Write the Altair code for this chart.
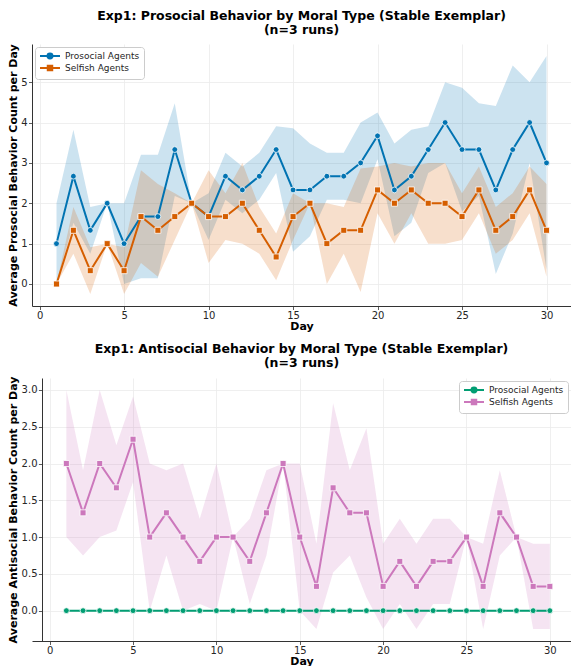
import altair as alt
import pandas as pd

days = list(range(1, 31))
agents = ["Prosocial Agents", "Selfish Agents"]

# Experiment 1, prosocial behaviour: per-day mean over 3 runs and its standard deviation
pro_prosocial_mean = [1.0, 2.67, 1.33, 2.0, 1.0, 1.67, 1.67, 3.33, 2.0, 1.67,
                      2.67, 2.33, 2.67, 3.33, 2.33, 2.33, 2.67, 2.67, 3.0, 3.67,
                      2.33, 2.67, 3.33, 4.0, 3.33, 3.33, 2.33, 3.33, 4.0, 3.0]
pro_prosocial_sd = [1.0, 1.15, 0.58, 0.0, 1.0, 1.53, 1.53, 1.15, 0.0, 0.58,
                    0.58, 0.58, 0.58, 0.58, 1.53, 1.15, 0.58, 0.58, 1.0, 0.58,
                    1.15, 1.15, 0.58, 1.0, 1.53, 1.15, 2.08, 2.08, 1.0, 2.65]
pro_selfish_mean = [0.0, 1.33, 0.33, 1.0, 0.33, 1.67, 1.33, 1.67, 2.0, 1.67,
                    1.67, 2.0, 1.33, 0.67, 1.67, 2.0, 1.0, 1.33, 1.33, 2.33,
                    2.0, 2.33, 2.0, 2.0, 1.67, 2.33, 1.33, 1.67, 2.33, 1.33]
pro_selfish_sd = [0.0, 0.58, 0.58, 0.0, 0.58, 1.15, 1.15, 0.58, 0.0, 1.15,
                  0.58, 1.0, 0.58, 0.58, 0.58, 0.0, 1.0, 0.58, 1.53, 0.58,
                  1.0, 0.58, 1.0, 1.0, 0.58, 0.58, 0.58, 0.58, 0.58, 1.15]

# Experiment 1, antisocial behaviour
anti_prosocial_mean = [0.0, 0.0, 0.0, 0.0, 0.0, 0.0, 0.0, 0.0, 0.0, 0.0,
                       0.0, 0.0, 0.0, 0.0, 0.0, 0.0, 0.0, 0.0, 0.0, 0.0,
                       0.0, 0.0, 0.0, 0.0, 0.0, 0.0, 0.0, 0.0, 0.0, 0.0]
anti_prosocial_sd = [0.0, 0.0, 0.0, 0.0, 0.0, 0.0, 0.0, 0.0, 0.0, 0.0,
                     0.0, 0.0, 0.0, 0.0, 0.0, 0.0, 0.0, 0.0, 0.0, 0.0,
                     0.0, 0.0, 0.0, 0.0, 0.0, 0.0, 0.0, 0.0, 0.0, 0.0]
anti_selfish_mean = [2.0, 1.33, 2.0, 1.67, 2.33, 1.0, 1.33, 1.0, 0.67, 1.0,
                     1.0, 0.67, 1.33, 2.0, 1.0, 0.33, 1.67, 1.33, 1.33, 0.33,
                     0.67, 0.33, 0.67, 0.67, 1.0, 0.33, 1.33, 1.0, 0.33, 0.33]
anti_selfish_sd = [1.0, 0.58, 1.0, 0.58, 0.58, 1.0, 0.58, 1.0, 0.58, 1.0,
                   0.0, 0.58, 0.58, 0.0, 1.0, 0.58, 1.15, 0.58, 1.15, 0.58,
                   0.58, 0.58, 0.58, 0.58, 0.0, 0.58, 0.58, 0.0, 0.58, 0.58]

day_ticks = [0, 5, 10, 15, 20, 25, 30]
pro_y_ticks = [0, 1, 2, 3, 4, 5]
anti_y_ticks = [0.0, 0.5, 1.0, 1.5, 2.0, 2.5, 3.0]

# series keys are "<panel>|<agent>"; legends print the part after the bar
pro_keys = ["prosocial|" + a for a in agents]
anti_keys = ["antisocial|" + a for a in agents]
series_keys = pro_keys + anti_keys
series_colors = ["#0173b2", "#d55e00", "#029e73", "#cc78bc"]

FONT = "DejaVu Sans"
TEXT = "#262626"

# Legend glyphs: a short line with the series marker in the middle.  The marker
# is built from nested outlines so that a 2px stroke paints it solid.
LINE_CIRCLE = ("M-2.5,0H2.5"
               "M0.62,0A0.62,0.62,0,1,1,-0.62,0A0.62,0.62,0,1,1,0.62,0"
               "M0.25,0A0.25,0.25,0,1,1,-0.25,0A0.25,0.25,0,1,1,0.25,0")
LINE_SQUARE = ("M-2.5,0H2.5"
               "M-0.56,-0.56H0.56V0.56H-0.56Z"
               "M-0.22,-0.22H0.22V0.22H-0.22Z")
series_glyphs = [LINE_CIRCLE, LINE_SQUARE, LINE_CIRCLE, LINE_SQUARE]


def build_frame(keys, m1, s1, m2, s2):
    rows = []
    for key, means, sds in ((keys[0], m1, s1), (keys[1], m2, s2)):
        for d, m, s in zip(days, means, sds):
            rows.append({"Day": d, "series": key, "mean": m, "lo": m - s, "hi": m + s})
    return pd.DataFrame(rows)


def panel(df, keys, title, ytitle, ydomain, yticks, yfmt, xdomain, width, height,
          orient, y_offset, title_x):
    x = alt.X("Day:Q", title="Day",
              scale=alt.Scale(domain=xdomain, nice=False, zero=False),
              axis=alt.Axis(values=day_ticks, format="d", labelPadding=0.5, titlePadding=0))
    yscale = alt.Scale(domain=ydomain, nice=False, zero=False)
    yaxis = alt.Axis(values=yticks, format=yfmt, offset=y_offset, minExtent=0,
                     labelPadding=1.5,
                     titleX=title_x, titleY=height / 2, titleBaseline="middle",
                     titleAlign="center", titleAngle=270)
    color = alt.Color("series:N", scale=alt.Scale(domain=series_keys, range=series_colors),
                      legend=None)

    band = alt.Chart(df).mark_area(opacity=0.2).encode(
        x=x,
        y=alt.Y("lo:Q", title=ytitle, scale=yscale, axis=yaxis, stack=None),
        y2="hi:Q",
        color=color,
    )
    line = alt.Chart(df).mark_line(strokeWidth=2).encode(
        x=x, y=alt.Y("mean:Q", scale=yscale), color=color
    )
    pts_circle = alt.Chart(df).transform_filter(
        alt.datum.series == keys[0]
    ).mark_point(filled=True, shape="circle", size=34, stroke="white",
                 strokeWidth=0.8, opacity=1).encode(
        x=x, y=alt.Y("mean:Q", scale=yscale), color=color
    )
    pts_square = alt.Chart(df).transform_filter(
        alt.datum.series == keys[1]
    ).mark_point(filled=True, shape="square", size=36, stroke="white",
                 strokeWidth=0.8, opacity=1).encode(
        x=x, y=alt.Y("mean:Q", scale=yscale), color=color
    )

    leg = alt.Legend(title=None, orient=orient, offset=3, padding=4, values=keys,
                     labelExpr="split(datum.label, '|')[1]",
                     labelFont=FONT, labelFontSize=9, labelColor=TEXT,
                     symbolSize=64, symbolStrokeWidth=2, labelOffset=10,
                     symbolOffset=6, rowPadding=-2,
                     fillColor="white", strokeColor="#cccccc", cornerRadius=3)
    # invisible points that only carry the legend
    key = alt.Chart(df).mark_point(filled=True, opacity=0).encode(
        x=x,
        y=alt.Y("mean:Q", scale=yscale),
        fill=alt.Fill("series:N", scale=alt.Scale(domain=series_keys, range=series_colors),
                      legend=leg),
        stroke=alt.Stroke("series:N", scale=alt.Scale(domain=series_keys, range=series_colors),
                          legend=leg),
        shape=alt.Shape("series:N", scale=alt.Scale(domain=series_keys, range=series_glyphs),
                        legend=leg),
    )

    return alt.layer(band, line, pts_circle, pts_square, key).properties(
        width=width, height=height,
        title=alt.TitleParams(title, font=FONT, fontSize=12.5, fontWeight="bold",
                              color="black", anchor="middle", frame="group",
                              offset=7, lineHeight=14),
    )


pro_df = build_frame(pro_keys, pro_prosocial_mean, pro_prosocial_sd,
                     pro_selfish_mean, pro_selfish_sd)
anti_df = build_frame(anti_keys, anti_prosocial_mean, anti_prosocial_sd,
                      anti_selfish_mean, anti_selfish_sd)

# Both panels share a left edge; the lower panel's y axis sits 10px inside it,
# leaving room for its wider tick labels.
top = panel(pro_df, pro_keys,
            ["Exp1: Prosocial Behavior by Moral Type (Stable Exemplar)", "(n=3 runs)"],
            "Average Prosocial Behavior Count per Day",
            [-0.545, 5.945], pro_y_ticks, "d", [-0.45, 31.45], 539, 262,
            "top-left", 0, -19)
bottom = panel(anti_df, anti_keys,
               ["Exp1: Antisocial Behavior by Moral Type (Stable Exemplar)", "(n=3 runs)"],
               "Average Antisocial Behavior Count per Day",
               [-0.4125, 3.1625], anti_y_ticks, ".1f", [-1.062, 31.27], 539, 263,
               "top-right", -10, -29)

chart = alt.concat(top, bottom, columns=1, spacing=11).properties(
    padding={"left": 6, "top": 10, "right": 0, "bottom": 0}
).configure_view(stroke=None).configure_axis(
    labelFont=FONT, labelFontSize=10, labelColor=TEXT,
    titleFont=FONT, titleFontSize=11, titleFontWeight="bold", titleColor="black",
    grid=True, gridColor="#ebebeb", gridWidth=0.8,
    domainColor="#333333", domainWidth=1,
    tickColor="#333333", tickSize=3.5, tickWidth=0.8,
)

chart.save("out.html", embed_options={"renderer": "svg", "actions": False})
